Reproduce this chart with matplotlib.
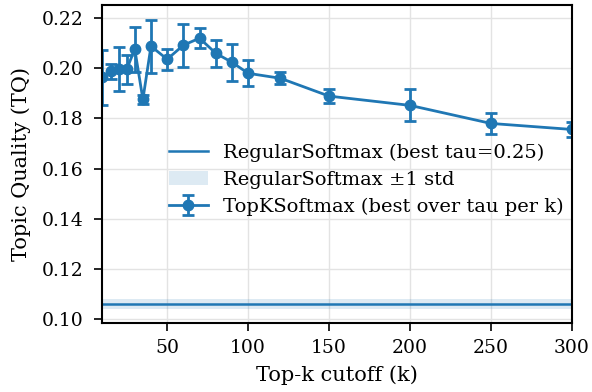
import numpy as np
import matplotlib
matplotlib.use("Agg")
import matplotlib.pyplot as plt

# TopKSoftmax, best over tau for each k
k_values = [10, 15, 20, 25, 30, 35, 40, 50, 60, 70, 80, 90, 100, 120, 150, 200, 250, 300]
tq_mean = [0.1964, 0.1988, 0.1996, 0.1996, 0.2076, 0.1876, 0.2088, 0.2036, 0.2092, 0.2120,
           0.2060, 0.2024, 0.1980, 0.1960, 0.1889, 0.1852, 0.1780, 0.1756]
tq_std = [0.0110, 0.0030, 0.0088, 0.0058, 0.0090, 0.0017, 0.0105, 0.0042, 0.0086, 0.0040,
          0.0054, 0.0074, 0.0052, 0.0024, 0.0028, 0.0064, 0.0042, 0.0030]

# RegularSoftmax baseline
regular_mean = 0.106
regular_std = 0.002

plt.rcParams['font.family'] = ['DejaVu Serif']

fig = plt.figure(figsize=(5.92, 3.92), dpi=100)
ax = fig.add_axes([0.173, 0.176, 0.793, 0.811])

color = '#1f77b4'
ax.axhline(regular_mean, color=color, lw=1.8, label='RegularSoftmax (best tau=0.25)')
ax.axhspan(regular_mean - regular_std, regular_mean + regular_std, color=color, alpha=0.15,
           lw=0, label='RegularSoftmax ±1 std')
ax.errorbar(k_values, tq_mean, yerr=tq_std, color=color, marker='o', ms=7.5, lw=2,
            capsize=4.5, capthick=2, elinewidth=2,
            label='TopKSoftmax (best over tau per k)')

ax.set_xlim(10, 300)
ax.set_ylim(0.0984, 0.2252)
ax.set_xticks([50, 100, 150, 200, 250, 300])
ax.set_yticks([0.10, 0.12, 0.14, 0.16, 0.18, 0.20, 0.22])
ax.set_yticklabels([f'{v:.2f}' for v in [0.10, 0.12, 0.14, 0.16, 0.18, 0.20, 0.22]])
ax.tick_params(labelsize=13.5, width=1.2, length=5.5)
ax.tick_params(axis='y', pad=8)
ax.tick_params(axis='x', pad=6)
ax.set_xlabel('Top-k cutoff (k)', fontsize=15, labelpad=6)
ax.set_ylabel('Topic Quality (TQ)', fontsize=15, labelpad=8)
ax.grid(True, color='#e3e3e3', lw=1)
ax.set_axisbelow(True)
for s in ax.spines.values():
    s.set_linewidth(1.5)

ax.legend(loc='center right', bbox_to_anchor=(1.02, 0.45), frameon=False, fontsize=14,
          handlelength=2.0, labelspacing=0.45)

fig.savefig('out.png', dpi=100)
